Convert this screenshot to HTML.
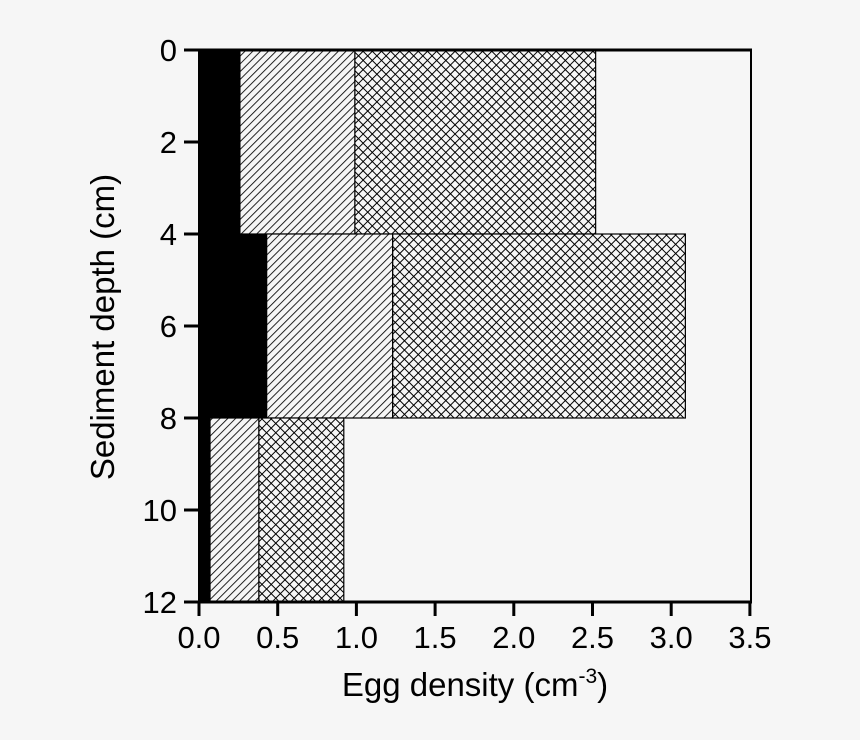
<!DOCTYPE html>
<html><head><meta charset="utf-8"><style>
body{margin:0;background:#f6f6f6;}
svg{display:block;font-family:"Liberation Sans",Arial,sans-serif;}
</style></head><body>
<svg id="chart" width="860" height="740" viewBox="0 0 860 740">
<defs>
<pattern id="diag" width="5.5" height="5.5" patternUnits="userSpaceOnUse" patternTransform="rotate(45)">
<rect width="5.5" height="5.5" fill="#f6f6f6"/><line x1="0" y1="0" x2="0" y2="5.5" stroke="#000" stroke-width="1.7"/></pattern>
<pattern id="cross" width="6.5" height="6.5" patternUnits="userSpaceOnUse" patternTransform="rotate(45)">
<rect width="6.5" height="6.5" fill="#f6f6f6"/><line x1="0" y1="0" x2="0" y2="6.5" stroke="#000" stroke-width="2"/><line x1="0" y1="0" x2="6.5" y2="0" stroke="#000" stroke-width="2"/></pattern>
</defs>
<g id="bars"></g>
<g id="axes"></g>
<text x="475" y="696" text-anchor="middle" font-size="33">Egg density (cm<tspan dy="-13" font-size="21">-3</tspan><tspan dy="13">)</tspan></text>
<text transform="translate(114,327) rotate(-90)" text-anchor="middle" font-size="33">Sediment depth (cm)</text>
</svg>
<script>
const depthTop=[0,4,8];
const depthBottom=[4,8,12];
const blackVals=[0.26,0.43,0.07];
const hatchVals=[0.99,1.23,0.38];
const crossVals=[2.52,3.09,0.92];
const xTicks=[0,0.5,1,1.5,2,2.5,3,3.5];
const xTickLabels=["0.0","0.5","1.0","1.5","2.0","2.5","3.0","3.5"];
const yTicks=[0,2,4,6,8,10,12];
const x=v=>199+v*157.4;
const y=v=>50+v*46;
const NS="http://www.w3.org/2000/svg";
const bars=document.getElementById('bars'),axes=document.getElementById('axes');
function mk(tag,at,parent){const e=document.createElementNS(NS,tag);for(const k in at)e.setAttribute(k,at[k]);parent.appendChild(e);return e;}
for(let i=0;i<depthTop.length;i++){
 const y0=y(depthTop[i]),y1=y(depthBottom[i]);
 const c=mk('rect',{x:x(hatchVals[i]),y:y0,width:x(crossVals[i])-x(hatchVals[i]),height:y1-y0,fill:'url(#cross)',stroke:'#000','stroke-width':1.2},bars);
 
 
 const h=mk('rect',{x:x(blackVals[i]),y:y0,width:x(hatchVals[i])-x(blackVals[i]),height:y1-y0,fill:'url(#diag)',stroke:'#000','stroke-width':1.2},bars);
 
 
 const b=mk('rect',{x:x(0),y:y0,width:x(blackVals[i])-x(0),height:y1-y0,fill:'#000'},bars);
 
 
}
mk('line',{x1:184,y1:y(0),x2:752,y2:y(0),stroke:'#000','stroke-width':3},axes);
mk('line',{x1:184,y1:y(12),x2:752,y2:y(12),stroke:'#000','stroke-width':3},axes);
mk('line',{x1:751,y1:y(0),x2:751,y2:y(12),stroke:'#000','stroke-width':2},axes);
mk('line',{x1:199,y1:y(0),x2:199,y2:y(12),stroke:'#000','stroke-width':2},axes);
yTicks.forEach(t=>{
 mk('line',{x1:184,y1:y(t),x2:199,y2:y(t),stroke:'#000','stroke-width':3},axes);
 const tx=mk('text',{x:177,y:y(t)+11,'text-anchor':'end','font-size':31},axes);tx.textContent=t;
 
 
});
xTicks.forEach((t,i)=>{
 mk('line',{x1:x(t),y1:y(12),x2:x(t),y2:y(12)+14,stroke:'#000','stroke-width':3},axes);
 const tx=mk('text',{x:x(t),y:648,'text-anchor':'middle','font-size':31},axes);tx.textContent=xTickLabels[i];
 
 
});
</script>
</body></html>
